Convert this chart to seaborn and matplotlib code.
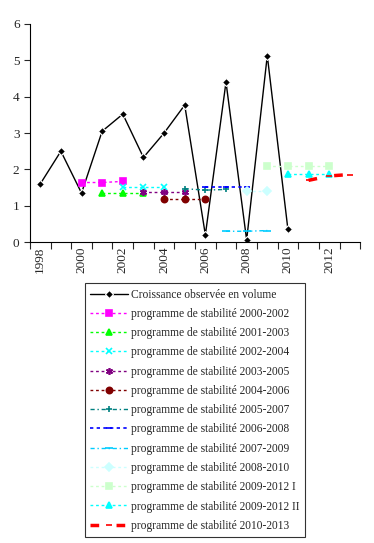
import matplotlib
matplotlib.use("Agg")
import matplotlib.pyplot as plt
import seaborn as sns
import numpy as np

# years shown on the category axis
years = list(range(1998, 2014))
year_labels = [str(y) if y % 2 == 0 else "" for y in years]

# observed growth
obs_years = list(range(1998, 2011))
obs_values = [1.6, 2.5, 1.35, 3.05, 3.52, 2.33, 3.0, 3.77, 0.2, 4.4, 0.06, 5.13, 0.35]

# stability programmes: (years, values)
ps_2000_2002 = ([2000, 2001, 2002], [1.64, 1.64, 1.67])
ps_2001_2003 = ([2001, 2002, 2003], [1.35, 1.35, 1.35])
ps_2002_2004 = ([2002, 2003, 2004], [1.53, 1.53, 1.53])
ps_2003_2005 = ([2003, 2004, 2005], [1.38, 1.38, 1.38])
ps_2004_2006 = ([2004, 2005, 2006], [1.2, 1.2, 1.2])
ps_2005_2007 = ([2005, 2006, 2007], [1.47, 1.43, 1.45])
ps_2006_2008 = ([2006, 2007, 2008], [1.52, 1.52, 1.52])
ps_2007_2009 = ([2007, 2008, 2009], [0.3, 0.3, 0.32])
ps_2008_2010 = ([2008, 2009], [1.4, 1.4])
ps_2009_2012a = ([2009, 2010, 2011, 2012], [2.1, 2.1, 2.1, 2.1])
ps_2009_2012b = ([2010, 2011, 2012], [1.88, 1.88, 1.88])
ps_2010_2013 = ([2011, 2012, 2013], [1.7, 1.82, 1.86])

series = [
    ("programme de stabilité 2000-2002", ps_2000_2002, "#FF00FF", "s", (0, (2, 2)), 4.5, 1.0),
    ("programme de stabilité 2001-2003", ps_2001_2003, "#00FF00", "^", (0, (2, 2)), 4.5, 1.0),
    ("programme de stabilité 2002-2004", ps_2002_2004, "#00FFFF", "x", (0, (2, 2)), 4.5, 1.0),
    ("programme de stabilité 2003-2005", ps_2003_2005, "#800080", (6, 2, 0), (0, (2, 2)), 5, 1.0),
    ("programme de stabilité 2004-2006", ps_2004_2006, "#800000", "o", (0, (2, 2)), 4.5, 1.0),
    ("programme de stabilité 2005-2007", ps_2005_2007, "#008080", "+", (0, (3, 2, 1, 2)), 5, 1.0),
    ("programme de stabilité 2006-2008", ps_2006_2008, "#0000FF", "_", (0, (2, 2)), 5, 1.2),
    ("programme de stabilité 2007-2009", ps_2007_2009, "#00CCFF", "_", (0, (3, 2, 1, 2)), 6, 1.0),
    ("programme de stabilité 2008-2010", ps_2008_2010, "#CCFFFF", "D", (0, (2, 2)), 4.5, 1.0),
    ("programme de stabilité 2009-2012 I", ps_2009_2012a, "#CCFFCC", "s", (0, (2, 2)), 4.5, 1.0),
    ("programme de stabilité 2009-2012 II", ps_2009_2012b, "#00FFFF", "^", (0, (2, 2)), 4.5, 1.0),
    ("programme de stabilité 2010-2013", ps_2010_2013, "#FF0000", "_", (0, (2.5, 5)), 5, 2.5),
]

sns.set_theme(style="white")
plt.rcParams['font.family'] = ['Liberation Serif', 'DejaVu Serif']

fig = plt.figure(figsize=(3.74, 5.43), dpi=100)
ax = fig.add_axes([0.080, 0.554, 0.883, 0.402])

sns.lineplot(x=[y - 1998 for y in obs_years], y=obs_values, ax=ax, color="black",
             marker="D", markersize=4.5, markeredgewidth=0.8, linewidth=1.0,
             label="Croissance observée en volume", legend=False)

for label, (yrs, vals), color, marker, ls, ms, lw in series:
    sns.lineplot(x=[y - 1998 for y in yrs], y=vals, ax=ax, color=color,
                 marker=marker, markersize=ms, markeredgecolor=color,
                 markeredgewidth=1.2, linestyle=ls, linewidth=lw,
                 label=label, legend=False)

ax.set_xlim(-0.5, len(years) - 0.5)
ax.set_ylim(0, 6)
ax.set_yticks(range(0, 7))
ax.set_xticks(np.arange(-0.5, len(years), 1.0))
ax.set_xticklabels([])
ax.set_xticks(range(len(years)), minor=True)
ax.set_xticklabels(year_labels, minor=True, rotation=90)
ax.tick_params(axis="x", which="major", length=5, width=0.8, direction="out", bottom=True)
ax.tick_params(axis="x", which="minor", length=0, labelsize=9.5, pad=3)
ax.tick_params(axis="y", length=4, width=0.8, direction="out", left=True, labelsize=9.5)
sns.despine(ax=ax)
for side in ("left", "bottom"):
    ax.spines[side].set_color("black")
    ax.spines[side].set_linewidth(0.8)
ax.set_xlabel("")
ax.set_ylabel("")

handles, labels = ax.get_legend_handles_labels()
leg = fig.legend(handles, labels, loc="upper center", bbox_to_anchor=(0.521, 0.478),
                 fontsize=8.3, frameon=True, fancybox=False, edgecolor="black",
                 labelspacing=0.63, handlelength=3.3, handletextpad=0.3,
                 borderpad=0.45, borderaxespad=0)
leg.get_frame().set_linewidth(0.8)

fig.savefig("out.png", dpi=100, facecolor="white")
